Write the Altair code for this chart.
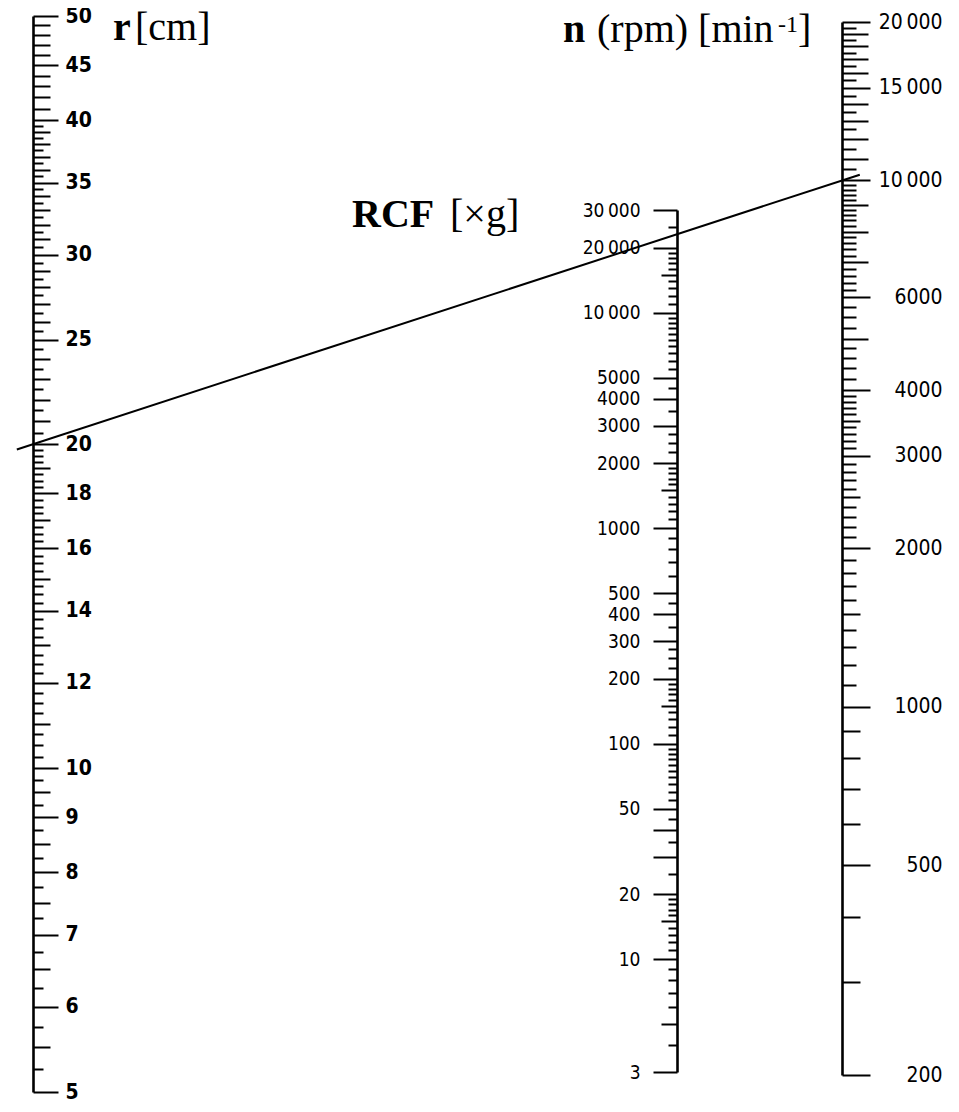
import math
import altair as alt
import pandas as pd

# ---------------- data (tick values & labels) ----------------
# r [cm] scale
R_LABELED = [5, 6, 7, 8, 9, 10, 12, 14, 16, 18, 20, 25, 30, 35, 40, 45, 50]
R_MEDIUM = [5.5, 6.5, 7.5, 8.5, 9.5, 11, 13, 15, 17, 19,
            21, 22, 23, 24, 26, 27, 28, 29, 31, 32, 33, 34, 36, 37, 38, 39,
            41, 42, 43, 44, 46, 47, 48, 49]
R_MINOR_SEGMENTS = [(5, 20, 0.25), (20, 40, 0.5)]

# RCF [xg] scale
RCF_LABELED = [3, 10, 20, 50, 100, 200, 300, 400, 500, 1000, 2000, 3000, 4000, 5000,
               10000, 20000, 30000]
RCF_LONG = [30, 40]
RCF_MEDIUM = [5, 15, 150, 1500, 15000]
RCF_MINOR_SEGMENTS = [(3, 10, 1), (10, 20, 1), (20, 50, 5), (50, 100, 5), (100, 200, 10),
                      (200, 300, 25), (300, 500, 50), (500, 1000, 100), (1000, 2000, 100),
                      (2000, 3000, 250), (3000, 5000, 500), (5000, 10000, 500),
                      (10000, 20000, 1000), (20000, 30000, 5000)]

# n [min-1] scale
N_LABELED = [200, 500, 1000, 2000, 3000, 4000, 6000, 10000, 15000, 20000]
N_LONG = [5000, 7000, 8000, 9000, 11000, 12000, 13000, 14000, 16000, 17000, 18000, 19000]
N_MEDIUM = [300, 400, 600, 700, 800, 900, 1500, 2500, 3500]
N_MINOR_SEGMENTS = [(1000, 4000, 100), (4000, 5000, 200), (5000, 6000, 250),
                    (6000, 10000, 200), (10000, 20000, 500)]

# example reading drawn on the chart
LINE_R = 20
LINE_N = 10000

# page positions (px from the page's top-left corner)
TITLES = [
    # text, x, baseline y, size, weight
    ("r", 113, 40, 40, "bold"),
    ("[cm]", 135, 40, 40, "normal"),
    ("RCF", 352, 227, 40, "bold"),
    ("[\u00d7g]", 450, 227, 40, "normal"),
    ("n", 563, 42, 40, "bold"),
    ("(rpm) [min", 597, 42, 40, "normal"),
    ("-1", 778, 32, 24, "normal"),
    ("]", 798, 42, 40, "normal"),
]

# ---------------- geometry ----------------
PAD_TOP = 8
OX, OY = 8, 8 + PAD_TOP            # page position of the plot origin
W, H = 940, 1080
X_R, X_RCF, X_N = 33 - OX, 677 - OX, 842 - OX
R_DOMAIN, R_RANGE = [5, 50], [1092 - OY, 16 - OY]
RCF_DOMAIN, RCF_RANGE = [3, 30000], [1072 - OY, 210 - OY]
N_DOMAIN, N_RANGE = [200, 20000], [1075 - OY, 22 - OY]

LABEL_FONT = "Liberation Sans Narrow, DejaVu Sans Condensed, Liberation Sans, sans-serif"
TITLE_FONT = "Liberation Serif, Times New Roman, serif"


def seg_values(segments, exclude):
    out = []
    for a, b, s in segments:
        k = 1
        while a + k * s < b - 1e-9:
            v = round(a + k * s, 6)
            if v not in exclude:
                out.append(v)
            k += 1
    return out


def log_px(v, dom, rng):
    t = math.log(v / dom[0]) / math.log(dom[1] / dom[0])
    return rng[0] + t * (rng[1] - rng[0])


def log_inv(px, dom, rng):
    t = (px - rng[0]) / (rng[1] - rng[0])
    return dom[0] * (dom[1] / dom[0]) ** t


def axis_layer(values, dom, rng, orient, xpos, tick, labeled=False, label_cfg=None):
    offset = (xpos - W) if orient == "right" else -xpos
    ax = dict(values=values, orient=orient, offset=offset, tickSize=tick, tickWidth=2,
              tickColor="black", domain=labeled, domainColor="black", domainWidth=2.6,
              grid=False, title=None, labels=labeled, ticks=True)
    if labeled:
        ax.update(label_cfg)
    return alt.Chart(pd.DataFrame({"v": values})).mark_point(opacity=0).encode(
        y=alt.Y("v:Q", scale=alt.Scale(type="log", domain=dom, range=rng, nice=False, zero=False),
                axis=alt.Axis(**ax))
    )


lbl_expr = ("datum.value >= 10000 ? replace(format(datum.value, ','), ',', '\u2009') "
            ": format(datum.value, 'd')")
common_lbl = dict(labelOverlap=False, labelFlush=False, labelBound=False, labelColor="black",
                  labelFont=LABEL_FONT, labelExpr=lbl_expr)

r_lbl = dict(common_lbl, labelFontSize=21, labelFontWeight="bold", labelAlign="left", labelPadding=7)
rcf_lbl = dict(common_lbl, labelFontSize=19, labelFontWeight="normal", labelAlign="right", labelPadding=13)
n_lbl = dict(common_lbl, labelFontSize=21, labelFontWeight="normal", labelAlign="right", labelPadding=72)

r_minor = seg_values(R_MINOR_SEGMENTS, set(R_LABELED) | set(R_MEDIUM))
rcf_minor = seg_values(RCF_MINOR_SEGMENTS, set(RCF_LABELED) | set(RCF_LONG) | set(RCF_MEDIUM))
n_minor = seg_values(N_MINOR_SEGMENTS, set(N_LABELED) | set(N_LONG) | set(N_MEDIUM))

layers = [
    axis_layer(r_minor, R_DOMAIN, R_RANGE, "right", X_R, 10),
    axis_layer(R_MEDIUM, R_DOMAIN, R_RANGE, "right", X_R, 17),
    axis_layer(R_LABELED, R_DOMAIN, R_RANGE, "right", X_R, 25, True, r_lbl),
    axis_layer(rcf_minor, RCF_DOMAIN, RCF_RANGE, "left", X_RCF, 9),
    axis_layer(RCF_MEDIUM, RCF_DOMAIN, RCF_RANGE, "left", X_RCF, 16),
    axis_layer(RCF_LONG, RCF_DOMAIN, RCF_RANGE, "left", X_RCF, 24),
    axis_layer(RCF_LABELED, RCF_DOMAIN, RCF_RANGE, "left", X_RCF, 24, True, rcf_lbl),
    axis_layer(n_minor, N_DOMAIN, N_RANGE, "right", X_N, 14),
    axis_layer(N_MEDIUM, N_DOMAIN, N_RANGE, "right", X_N, 18),
    axis_layer(N_LONG, N_DOMAIN, N_RANGE, "right", X_N, 26),
    axis_layer(N_LABELED, N_DOMAIN, N_RANGE, "right", X_N, 28, True, n_lbl),
]

# the reading line: through r = LINE_R on the r scale and n = LINE_N on the n scale,
# expressed on the r scale (x = 0 at r axis, x = 1 at n axis), extended a little past both
y_left = log_px(LINE_R, R_DOMAIN, R_RANGE)
y_right = log_px(LINE_N, N_DOMAIN, N_RANGE)
t0, t1 = -0.02, 1.022
line_df = pd.DataFrame({
    "pos": [t0, t1],
    "r": [log_inv(y_left + t * (y_right - y_left), R_DOMAIN, R_RANGE) for t in (t0, t1)],
})
line = alt.Chart(line_df).mark_line(color="black", strokeWidth=2).encode(
    x=alt.X("pos:Q", scale=alt.Scale(domain=[0, 1], range=[X_R, X_N], nice=False, zero=False), axis=None),
    y=alt.Y("r:Q", scale=alt.Scale(type="log", domain=R_DOMAIN, range=R_RANGE, nice=False, zero=False), axis=None),
)
layers.append(line)

for text, x, y, size, weight in TITLES:
    layers.append(
        alt.Chart(pd.DataFrame({"a": [0]})).mark_text(
            text=text, align="left", baseline="alphabetic", font=TITLE_FONT,
            fontSize=size, fontWeight=weight, color="black"
        ).encode(x=alt.value(x - OX), y=alt.value(y - OY))
    )

chart = alt.layer(*layers).resolve_scale(y="independent").properties(
    width=W, height=H, autosize=alt.AutoSizeParams(type="none"),
    padding={"top": PAD_TOP, "left": 0, "right": 0, "bottom": 8}, background="white"
).configure_view(stroke=None)

chart.save("out.html", embed_options={"renderer": "svg", "actions": False})
